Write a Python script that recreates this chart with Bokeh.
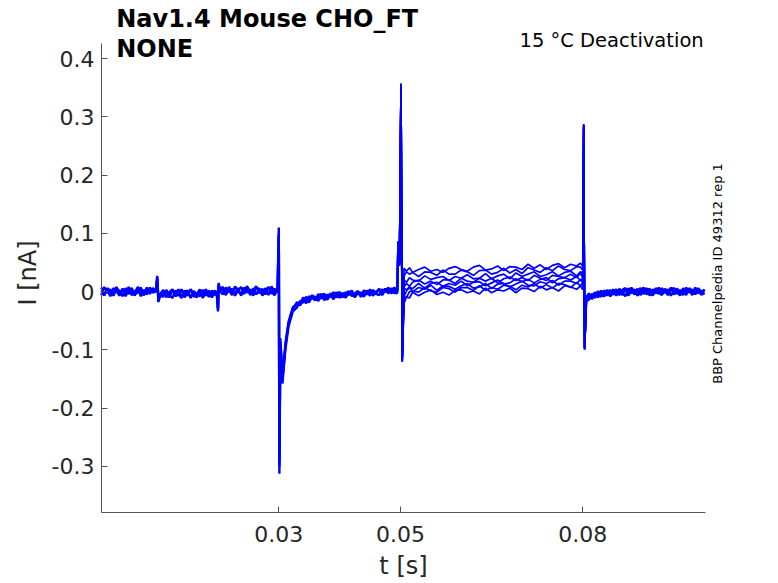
import math
from bokeh.plotting import figure
from bokeh.models import Label, FixedTicker, Range1d
from bokeh.embed import file_html
from bokeh.resources import INLINE

# ---------------- data (time in ms, current in nA) ----------------
t_pre_ms = [0.8, 1.3, 1.8, 2.3, 2.8, 3.3, 3.8, 4.3, 4.8, 5.3, 5.8, 6.3, 6.8, 7.3, 7.8, 8.3, 8.8, 9.3,
            9.8, 10.0, 10.2, 10.5,
            11.0, 11.5, 12.0, 12.5, 13.0, 13.5, 14.0, 14.5, 15.0, 15.5, 16.0, 16.5, 17.0, 17.5, 18.0, 18.5, 19.0, 19.5,
            19.8, 20.0, 20.1, 20.3,
            20.8, 21.3, 21.8, 22.3, 22.8, 23.3, 23.8, 24.3, 24.8, 25.3, 25.8, 26.3, 26.8, 27.3, 27.8, 28.3, 28.8, 29.3, 29.8,
            30.0, 30.1, 30.25, 30.6, 31.1, 31.6, 32.3,
            33.0, 33.5, 34.0, 34.5, 35.0, 35.5, 36.0, 36.5, 37.0, 37.5, 38.0, 38.5, 39.0, 39.5, 40.0, 40.5, 41.0, 41.5,
            42.0, 42.5, 43.0, 43.5, 44.0, 44.5, 45.0, 45.5, 46.0, 46.5, 47.0, 47.5, 48.0, 48.5, 49.0, 49.5]

i_pre_a = [0.007, -0.004, 0.002, -0.008, 0.006, 0.001, -0.007, 0.005, -0.003, 0.008, -0.006, 0.000, 0.006, -0.008, 0.003, -0.005, 0.007, -0.002,
           0.002, 0.027, -0.016, -0.006,
           -0.009, 0.003, -0.006, -0.011, 0.002, -0.007, 0.004, -0.010, -0.002, 0.003, -0.009, -0.005, 0.004, -0.011, -0.001, -0.008, 0.002, -0.006,
           -0.002, -0.034, 0.015, 0.004,
           0.008, -0.004, 0.003, -0.006, 0.009, 0.001, -0.005, 0.007, -0.002, 0.004, -0.007, 0.008, 0.002, -0.004, 0.006, -0.006, 0.009, -0.001, 0.003,
           0.110, -0.313, -0.085, -0.158, -0.092, -0.055, -0.030,
           -0.018, -0.024, -0.014, -0.020, -0.008, -0.011, -0.015, -0.004, -0.012, -0.007, -0.014, -0.003, -0.008, -0.001,
           -0.011, -0.002, -0.007, 0.001, -0.008, -0.003, 0.001, -0.009, -0.001, -0.005, 0.004, -0.007, 0.000, 0.003,
           -0.006, 0.003, -0.001, 0.006, -0.003, 0.003]

i_pre_b = [-0.006, 0.008, -0.002, 0.004, -0.007, 0.005, 0.001, -0.008, 0.006, -0.004, 0.003, -0.007, 0.008, -0.001, -0.006, 0.007, -0.004, 0.005,
           -0.001, 0.024, -0.018, -0.004,
           0.003, -0.010, -0.001, 0.004, -0.008, -0.004, -0.011, 0.002, -0.007, 0.004, -0.003, -0.010, 0.001, -0.006, 0.004, -0.009, -0.004, 0.002,
           -0.004, -0.030, 0.012, 0.001,
           -0.005, 0.007, -0.001, 0.005, -0.007, 0.002, 0.008, -0.004, 0.006, -0.006, 0.003, 0.009, -0.003, 0.005, -0.005, 0.007, 0.000, -0.006, 0.004,
           0.095, -0.290, -0.090, -0.150, -0.098, -0.060, -0.034,
           -0.027, -0.016, -0.019, -0.009, -0.015, -0.006, -0.015, -0.009, -0.004, -0.015, -0.005, -0.009, -0.001, -0.010,
           -0.004, -0.010, -0.001, -0.006, 0.002, -0.009, -0.001, -0.002, -0.009, 0.002, -0.004, 0.003, -0.004, -0.006,
           0.004, -0.001, 0.007, -0.003, 0.003, -0.004]

i_pre_c = [0.002, -0.007, 0.006, 0.000, -0.005, 0.008, -0.003, 0.004, -0.008, 0.002, 0.006, -0.005, -0.001, 0.007, -0.006, 0.003, -0.002, 0.006,
           0.000, 0.022, -0.012, -0.007,
           -0.004, 0.001, -0.010, 0.003, -0.005, 0.004, -0.009, -0.002, 0.002, -0.011, 0.001, -0.004, -0.008, 0.003, -0.007, 0.002, -0.010, -0.001,
           0.000, -0.028, 0.010, 0.003,
           0.002, -0.006, 0.008, 0.000, -0.003, 0.006, -0.007, 0.003, 0.009, -0.002, 0.005, -0.005, 0.006, -0.007, 0.002, 0.008, -0.004, 0.005, -0.001,
           0.100, -0.300, -0.080, -0.145, -0.088, -0.052, -0.027,
           -0.021, -0.022, -0.010, -0.016, -0.018, -0.008, -0.009, -0.016, -0.006, -0.004, -0.012, -0.006, -0.013, -0.003,
           -0.001, -0.008, -0.010, -0.003, 0.000, -0.010, -0.002, -0.007, 0.002, -0.001, -0.007, 0.001, -0.003, 0.005,
           -0.003, 0.005, -0.003, 0.002, 0.007, -0.001]

t_step_ms = [49.5, 49.6, 49.75, 49.85, 50.1, 50.3,
             50.6, 51.0, 51.5, 52.0,
             53.0, 54.0, 55.0, 56.0, 57.0, 58.0, 59.0, 60.0, 61.0, 62.0,
             63.0, 64.0, 65.0, 66.0, 67.0, 68.0, 69.0, 70.0, 71.0, 72.0,
             73.0, 74.0, 75.0, 76.0, 77.0, 78.0, 79.0,
             79.6, 80.0,
             80.15, 80.3, 80.6]

i_step_1 = [0.001, 0.086, 0.081, 0.050, 0.358, -0.121,
            0.040, 0.035, 0.041, 0.033,
            0.038, 0.042, 0.035, 0.038, 0.033, 0.040, 0.043, 0.038, 0.035, 0.042,
            0.045, 0.037, 0.039, 0.044, 0.036, 0.043, 0.042, 0.038, 0.047, 0.040,
            0.046, 0.038, 0.045, 0.048, 0.041, 0.047, 0.044,
            0.049, 0.043,
            0.288, -0.100, -0.008]
i_step_2 = [-0.002, 0.084, 0.078, 0.046, 0.352, -0.118,
            0.027, 0.034, 0.030, 0.033,
            0.026, 0.034, 0.033, 0.028, 0.037, 0.030, 0.030, 0.037, 0.034, 0.028,
            0.036, 0.037, 0.030, 0.033, 0.040, 0.032, 0.038, 0.031, 0.041, 0.037,
            0.033, 0.041, 0.036, 0.044, 0.038, 0.036, 0.043,
            0.042, 0.037,
            0.284, -0.097, -0.012]
i_step_3 = [0.003, 0.085, 0.080, 0.052, 0.355, -0.115,
            0.020, 0.016, 0.024, 0.020,
            0.018, 0.027, 0.021, 0.024, 0.026, 0.019, 0.026, 0.023, 0.029, 0.022,
            0.023, 0.031, 0.022, 0.027, 0.030, 0.022, 0.032, 0.026, 0.030, 0.034,
            0.026, 0.029, 0.034, 0.027, 0.033, 0.035, 0.027,
            0.034, 0.031,
            0.286, -0.099, -0.006]
i_step_4 = [-0.001, 0.083, 0.077, 0.044, 0.350, -0.120,
            0.008, 0.014, 0.009, 0.016,
            0.020, 0.013, 0.018, 0.012, 0.020, 0.020, 0.014, 0.023, 0.018, 0.016,
            0.023, 0.018, 0.023, 0.015, 0.022, 0.025, 0.019, 0.024, 0.019, 0.028,
            0.023, 0.019, 0.028, 0.026, 0.024, 0.030, 0.024,
            0.032, 0.023,
            0.280, -0.094, -0.014]
i_step_5 = [0.002, 0.086, 0.079, 0.048, 0.356, -0.117,
            0.006, 0.003, 0.008, 0.005,
            0.014, 0.006, 0.014, 0.016, 0.009, 0.014, 0.011, 0.018, 0.010, 0.016,
            0.017, 0.010, 0.015, 0.020, 0.013, 0.015, 0.022, 0.017, 0.021, 0.015,
            0.021, 0.024, 0.015, 0.022, 0.024, 0.020, 0.026,
            0.019, 0.023,
            0.285, -0.098, -0.009]
i_step_6 = [0.000, 0.082, 0.076, 0.045, 0.348, -0.112,
            -0.008, 0.001, 0.007, 0.000,
            0.007, 0.004, 0.011, 0.002, 0.010, 0.009, 0.004, 0.010, 0.014, 0.006,
            0.008, 0.014, 0.005, 0.013, 0.014, 0.008, 0.013, 0.018, 0.011, 0.010,
            0.017, 0.014, 0.019, 0.011, 0.018, 0.018, 0.014,
            0.021, 0.015,
            0.282, -0.095, -0.016]
i_step_7 = [-0.003, 0.084, 0.079, 0.049, 0.353, -0.119,
            -0.009, -0.010, 0.000, 0.001,
            -0.001, 0.007, 0.001, -0.001, 0.007, 0.005, -0.001, 0.007, 0.007, 0.002,
            0.010, 0.002, 0.007, 0.004, 0.011, 0.009, 0.003, 0.011, 0.008, 0.014,
            0.006, 0.012, 0.006, 0.014, 0.012, 0.007, 0.016,
            0.010, 0.015,
            0.287, -0.099, -0.011]
i_step_8 = [0.001, 0.085, 0.080, 0.047, 0.351, -0.116,
            -0.020, -0.009, -0.011, -0.001,
            -0.007, -0.001, 0.003, -0.005, -0.001, -0.006, 0.002, 0.003, -0.002, 0.001,
            -0.004, 0.006, -0.002, 0.003, 0.001, 0.006, -0.002, 0.006, 0.005, 0.000,
            0.009, 0.003, 0.007, 0.001, 0.010, 0.008, 0.004,
            0.010, 0.003,
            0.283, -0.096, -0.020]

t_post_ms = [80.6, 81.0, 81.5, 82.0, 82.5, 83.0, 83.5, 84.0, 84.5, 85.0,
             85.5, 86.0, 86.5, 87.0, 87.5, 88.0, 88.5, 89.0, 89.5, 90.0,
             90.5, 91.0, 91.5, 92.0, 92.5, 93.0, 93.5, 94.0, 94.5, 95.0,
             95.5, 96.0, 96.5, 97.0, 97.5, 98.0, 98.5, 99.0, 99.5, 100.0]
i_post_a = [-0.010, -0.003, -0.013, -0.001, -0.010, 0.002, -0.009, 0.003, -0.008, 0.004,
            -0.007, 0.005, -0.002, -0.008, 0.006, -0.003, 0.004, -0.007, 0.002, 0.007,
            -0.005, 0.003, -0.007, 0.006, 0.000, -0.006, 0.005, -0.002, 0.007, -0.005,
            0.002, -0.007, 0.006, -0.001, 0.004, -0.006, 0.007, -0.003, 0.002, -0.005]
i_post_b = [-0.016, -0.014, -0.004, -0.011, 0.001, -0.009, -0.002, 0.002, -0.008, -0.001,
            0.004, -0.006, 0.003, 0.006, -0.007, 0.002, -0.004, 0.005, -0.006, 0.001,
            0.006, -0.007, 0.004, -0.003, 0.007, -0.005, 0.001, -0.006, 0.004, 0.006,
            -0.004, 0.003, -0.006, 0.007, -0.002, 0.004, -0.005, 0.006, -0.003, 0.003]
i_post_c = [-0.008, -0.011, -0.006, -0.003, -0.009, -0.004, 0.002, -0.007, 0.003, -0.005,
            -0.001, 0.002, -0.006, 0.005, -0.003, 0.007, -0.005, 0.001, 0.006, -0.004,
            0.002, 0.005, -0.006, 0.001, -0.004, 0.006, -0.002, 0.004, -0.007, 0.002,
            0.005, -0.004, 0.001, -0.006, 0.006, 0.000, -0.003, 0.005, -0.006, 0.004]

x_ticks = [0.03, 0.05, 0.08]
x_tick_labels = ["0.03", "0.05", "0.08"]
y_ticks = [-0.3, -0.2, -0.1, 0, 0.1, 0.2, 0.3, 0.4]
y_tick_labels = ["-0.3", "-0.2", "-0.1", "0", "0.1", "0.2", "0.3", "0.4"]
x_limits = (0.00084, 0.1001)
y_limits = (-0.3796, 0.4258)

x_label = "t [s]"
y_label = "I [nA]"
title_line1 = "Nav1.4  Mouse  CHO_FT"
title_line2 = "NONE"
protocol_text = "15 °C  Deactivation"
side_text = "BBP Channelpedia ID 49312 rep 1"

# ---------------- figure ----------------
FONT = "DejaVu Sans"
TXT = "#262626"
AX = "#555555"
TRACE = "#0000FF"
LW = 2.4
W, H = 770, 580

# The plotting frame covers the whole canvas (so texts outside the axes box are
# not clipped); the axes are pinned at the axis-box limits and bounded to them.
p = figure(width=W, height=H, output_backend="svg", toolbar_location=None, title=None,
           x_range=Range1d(-0.015773, 0.110872), y_range=Range1d(-0.49639, 0.50017),
           min_border=0)
p.outline_line_color = None
p.grid.visible = False
p.background_fill_color = "white"
p.border_fill_color = "white"

def ms(lst):
    return [v / 1000.0 for v in lst]

for ys in (i_pre_a, i_pre_b, i_pre_c):
    p.line(ms(t_pre_ms), ys, line_color=TRACE, line_width=LW)
for ys in (i_step_8, i_step_7, i_step_6, i_step_5, i_step_4, i_step_3, i_step_2, i_step_1):
    p.line(ms(t_step_ms), ys, line_color=TRACE, line_width=1.7)
for ys in (i_post_a, i_post_b, i_post_c):
    p.line(ms(t_post_ms), ys, line_color=TRACE, line_width=LW)

for ax in (p.xaxis[0], p.yaxis[0]):
    ax.axis_line_color = AX
    ax.major_tick_line_color = AX
    ax.minor_tick_line_color = None
    ax.major_tick_in = 6
    ax.major_tick_out = 0
    ax.major_label_text_font = FONT
    ax.major_label_text_font_size = "22px"
    ax.major_label_text_color = TXT

p.xaxis.fixed_location = y_limits[0]
p.yaxis.fixed_location = x_limits[0]
p.xaxis.bounds = x_limits
p.yaxis.bounds = y_limits
p.xaxis.ticker = FixedTicker(ticks=x_ticks)
p.xaxis.major_label_overrides = {k: v for k, v in zip(x_ticks, x_tick_labels)}
p.yaxis.ticker = FixedTicker(ticks=y_ticks)
p.yaxis.major_label_overrides = {k: v for k, v in zip(y_ticks, y_tick_labels)}
p.xaxis.major_label_standoff = 13
p.yaxis.major_label_standoff = 7

def screen_label(x, y, text, size, **kw):
    p.add_layout(Label(x=x, y=y, x_units="screen", y_units="screen", text=text,
                       text_font=FONT, text_font_size=size, **kw))

# axis titles
screen_label(403, H - 565, x_label, "24px", text_color=TXT,
             text_align="center", text_baseline="middle")
screen_label(27, H - 272.5, y_label, "24px", text_color=TXT, angle=math.pi / 2,
             text_align="center", text_baseline="middle")
# header texts
screen_label(115.7, H - 18, title_line1, "24px", text_font_style="bold",
             text_color="black", text_baseline="alphabetic")
screen_label(115.7, H - 48.3, title_line2, "24px", text_font_style="bold",
             text_color="black", text_baseline="alphabetic")
screen_label(519, H - 40.3, protocol_text, "19.5px", text_color="black",
             text_baseline="alphabetic")
screen_label(717, H - 273, side_text, "13px", text_color="black", angle=math.pi / 2,
             text_align="center", text_baseline="middle")

open("out.html", "w").write(file_html(p, INLINE))
